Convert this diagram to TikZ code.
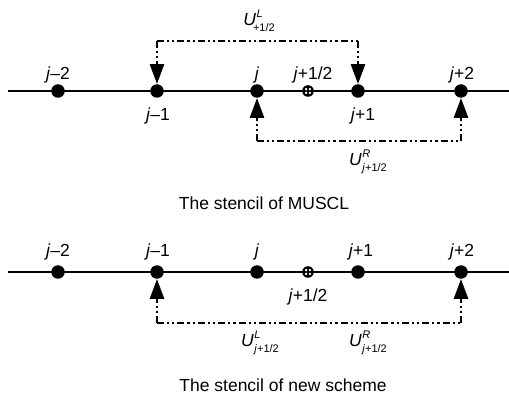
\documentclass[tikz,border=0pt]{standalone}
\usepackage{fontspec}
\setmainfont{Liberation Sans}
\usetikzlibrary{arrows.meta}
\tikzset{
  dot/.style={circle,fill=black,inner sep=0pt,minimum size=13.5pt},
  lab/.style={inner sep=0pt,font=\fontsize{17.5}{20}\selectfont},
  captext/.style={inner sep=0pt,anchor=base,font=\fontsize{17.5}{20}\selectfont},
  axis/.style={line width=2.6pt},
  dd/.style={line width=2.8pt,line cap=butt,dash pattern=on 7pt off 3pt on 2.2pt off 3pt on 2.2pt off 3pt},
  tip/.style={-{Triangle[width=14pt,length=20pt]}},
  half/.pic={
    \fill[black] (0,0) circle (5.8pt);
    \fill[white] (-1.9pt,1.9pt) circle (1.3pt) (1.9pt,1.9pt) circle (1.3pt)
                 (-1.9pt,-1.9pt) circle (1.3pt) (1.9pt,-1.9pt) circle (1.3pt);
  },
}
\newcommand{\jj}{\textit{j}}
% #1 sup, #2 sub, #3 kern before sub
\newcommand{\Ustack}[3]{\textit{U}\makebox[0pt][l]{\kern0.5pt\raisebox{7.5pt}{\fontsize{11}{11}\selectfont\textit{#1}}}\kern#3\raisebox{-6.5pt}{\fontsize{11}{11}\selectfont #2}}
\begin{document}
\begin{tikzpicture}[x=1pt,y=1pt]
\useasboundingbox (0,0) rectangle (509,394);
% ---------- top: MUSCL ----------
\coordinate (tl) at (8,303);
\coordinate (tr) at (509,303);
\draw[axis] (tl) -- (tr);
\node[dot] (a1) at (58,303) {};
\node[dot] (a2) at (157,303) {};
\node[dot] (a3) at (257,303) {};
\node[dot] (a4) at (358,303) {};
\node[dot] (a5) at (461,303) {};
\pic (ah) at (308,303) {half};
\node[lab] (la1) at (58,319) {\jj–2};
\node[lab] (la2) at (158,278) {\jj–1};
\node[lab] (la3) at (257,319) {\jj};
\node[lab] (lah) at (313,319) {\jj+1/2};
\node[lab] (la4) at (363,278) {\jj+1};
\node[lab] (la5) at (462,319) {\jj+2};
\coordinate (c1) at (157,353);
\coordinate (c2) at (358,353);
\draw[dd] (c1) -- (c2);
\draw[dd,tip] (c1) -- (a2);
\draw[dd,tip] (c2) -- (a4);
\coordinate (c3) at (257,253);
\coordinate (c4) at (461,253);
\draw[dd] (c3) -- (c4);
\draw[dd,tip] (c3) -- (a3);
\draw[dd,tip] (c4) -- (a5);
\node[lab] (ul1) at (259,373) {\Ustack{L}{+1/2}{-3pt}};
\node[lab] (ur1) at (368,232) {\Ustack{R}{\jj+1/2}{0.5pt}};
\node[captext] (cap1) at (264,184) {The stencil of MUSCL};
% ---------- bottom: new scheme ----------
\coordinate (bl) at (8,122);
\coordinate (br) at (509,122);
\draw[axis] (bl) -- (br);
\node[dot] (b1) at (58,122) {};
\node[dot] (b2) at (157,122) {};
\node[dot] (b3) at (257,122) {};
\node[dot] (b4) at (358,122) {};
\node[dot] (b5) at (461,122) {};
\pic (bh) at (308,122) {half};
\node[lab] (lb1) at (58,142) {\jj–2};
\node[lab] (lb2) at (158,142) {\jj–1};
\node[lab] (lb3) at (257,142) {\jj};
\node[lab] (lb4) at (361,142) {\jj+1};
\node[lab] (lb5) at (462,142) {\jj+2};
\node[lab] (lbh) at (308,97) {\jj+1/2};
\coordinate (c5) at (157,71);
\coordinate (c6) at (461,71);
\draw[dd] (c5) -- (c6);
\draw[dd,tip] (c5) -- (b2);
\draw[dd,tip] (c6) -- (b5);
\node[lab] (ul2) at (260,51) {\Ustack{L}{\jj+1/2}{0.5pt}};
\node[lab] (ur2) at (368,51) {\Ustack{R}{\jj+1/2}{0.5pt}};
\node[captext] (cap2) at (283,3) {The stencil of new scheme};
\end{tikzpicture}
\end{document}
